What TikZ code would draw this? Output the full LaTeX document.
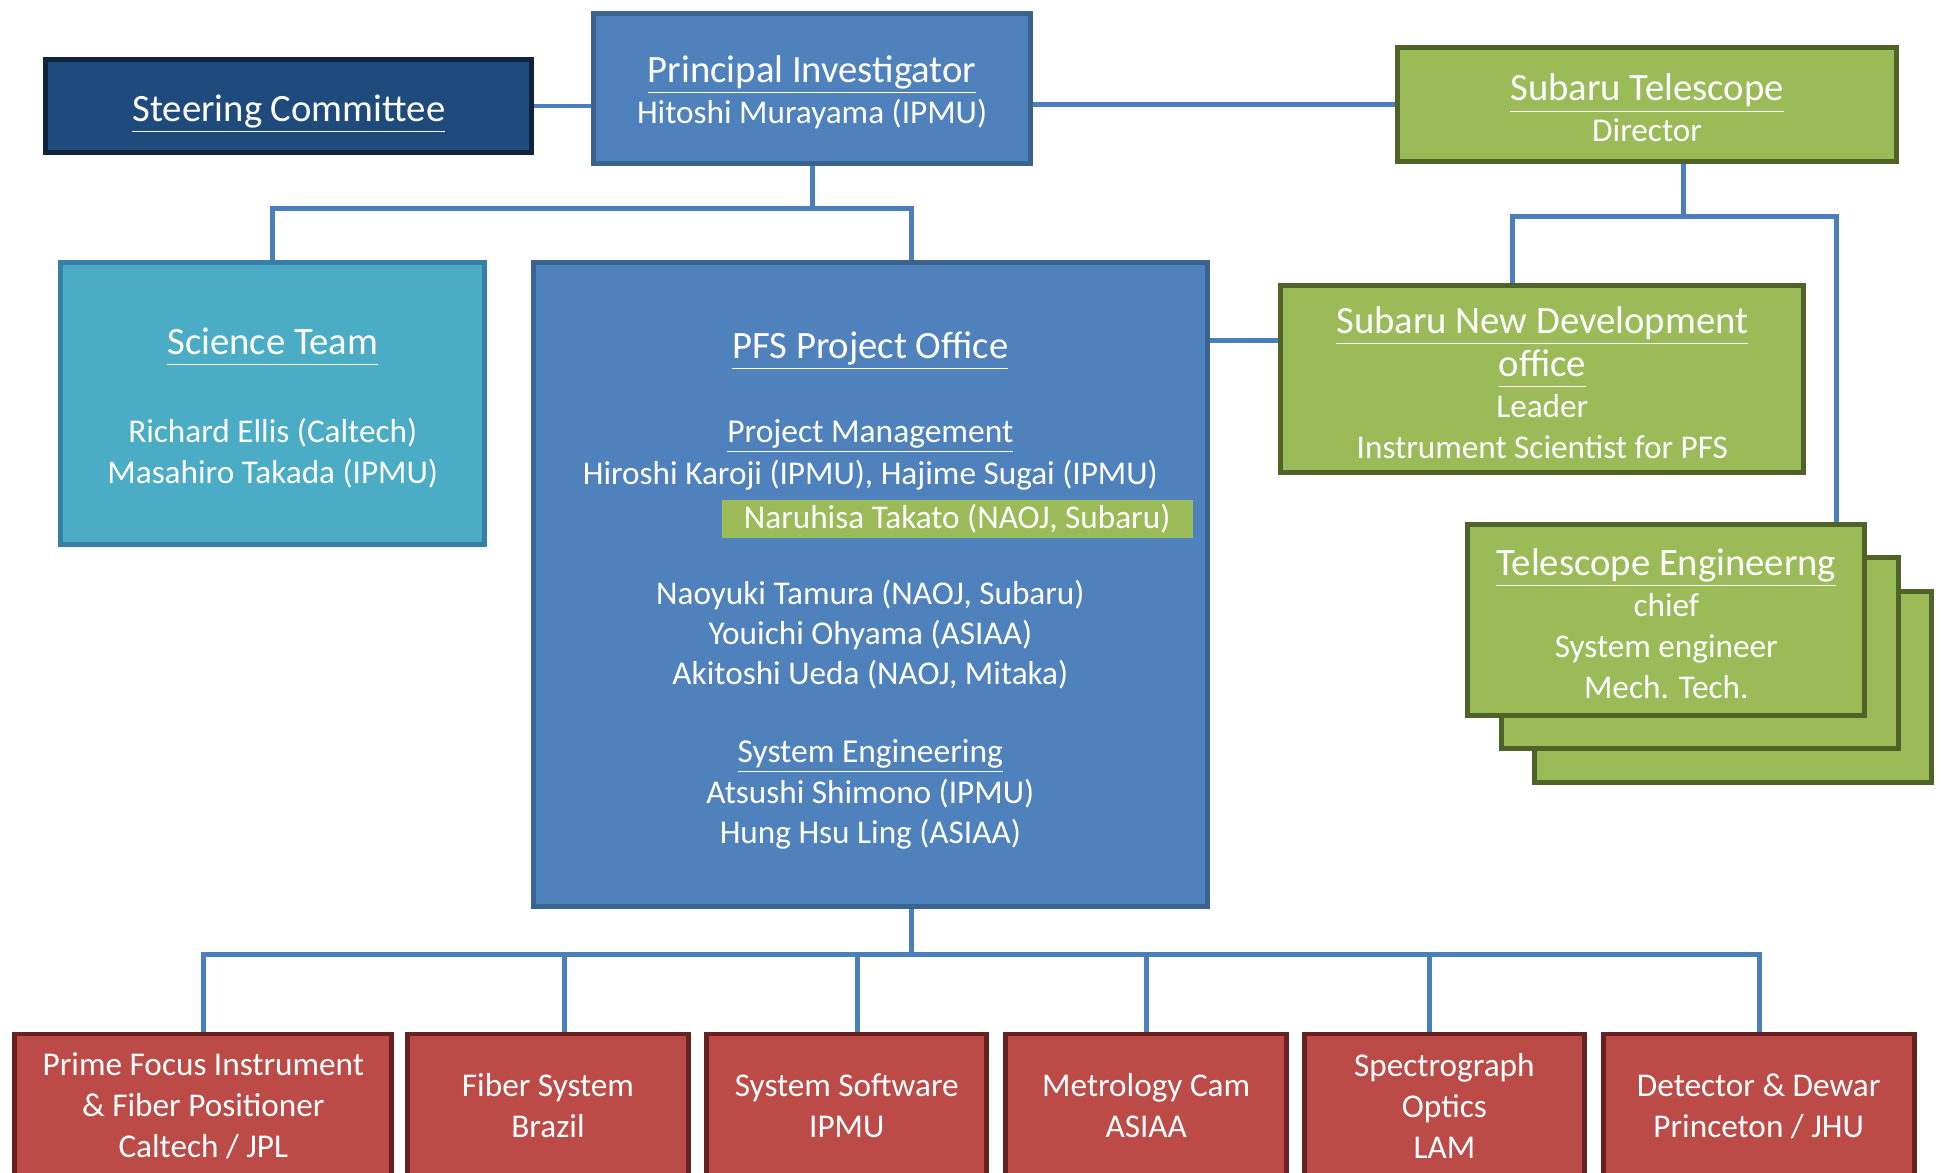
\documentclass[tikz,border=0pt]{standalone}
\usepackage{fontspec}
\setmainfont{Carlito}
\usetikzlibrary{backgrounds}
\definecolor{navyf}{HTML}{1F4A7C}
\definecolor{navyb}{HTML}{11243D}
\definecolor{bluef}{HTML}{4F81BD}
\definecolor{blueb}{HTML}{3A6390}
\definecolor{greenf}{HTML}{9BBB59}
\definecolor{greenb}{HTML}{4F6228}
\definecolor{cyanf}{HTML}{4BACC6}
\definecolor{cyanb}{HTML}{357FA8}
\definecolor{redf}{HTML}{BC4B48}
\definecolor{redb}{HTML}{652220}
\definecolor{connc}{HTML}{4A7EBC}
\newcommand\ttl[1]{{\fontsize{15.6}{18}\selectfont\rule{0pt}{14pt}\underline{#1\vphantom{gy}}}}
\newcommand\ttlx[1]{{\fontsize{15.6}{18}\selectfont\underline{#1\vphantom{gy}}}}
\newcommand\ttlb[1]{{\fontsize{13.5}{16.5}\selectfont\underline{#1\vphantom{gy}}}}
\begin{document}
\begin{tikzpicture}[x=0.5pt,y=-0.5pt,
  box/.style n args={4}{draw=#4, fill=#3, line width=2pt,
    minimum width={#1*0.5pt-2pt}, minimum height={#2*0.5pt-2pt},
    inner sep=0pt, text=white, align=center,
    font=\fontsize{13.4}{16.5}\selectfont},
  txt/.style={text=white, inner sep=0pt, align=center, font=\fontsize{13.4}{16.5}\selectfont},
  conn/.style={draw=connc, line width=2pt}]
\useasboundingbox (0,0) rectangle (1568,946);
\clip (0,0) rectangle (1568,946);

\coordinate (x735) at (735,0);
\coordinate (x1358) at (1358,0);
\coordinate (x1220) at (1220,0);
\coordinate (x1481) at (1481,0);
\coordinate (y275) at (0,275);
\coordinate (x164) at (164,0);
\coordinate (x455) at (455,0);
\coordinate (x692) at (692,0);
\coordinate (x925) at (925,0);
\coordinate (x1153) at (1153,0);
\coordinate (x1419) at (1419,0);

\node[box={396}{79}{navyf}{navyb}] (steer) at (233,85.5) {\raisebox{-1.5pt}[\height][\depth]{\ttl{Steering Committee}}};
\node[box={356}{125}{bluef}{blueb}] (pi) at (655,71.5) {\ttl{Principal Investigator}\\Hitoshi Murayama (IPMU)};
\node[box={407}{96}{greenf}{greenb}] (sub) at (1328.5,84) {\ttl{Subaru Telescope}\\Director};
\node[box={346}{231}{cyanf}{cyanb}] (sci) at (220,325.5) {\ttl{Science Team}\\[19pt]Richard Ellis (Caltech)\\Masahiro Takada (IPMU)};
\node[box={548}{523}{bluef}{blueb}] (pfs) at (702,471.5) {};
\node[box={426}{155}{greenf}{greenb}] (snd) at (1244,305.5) {\ttl{Subaru New Development}\\[1pt]\ttlx{office}\\Leader\\Instrument Scientist for PFS};
\node[box={324}{158}{greenf}{greenb}] (te3) at (1398,554) {};
\node[box={324}{158}{greenf}{greenb}] (te2) at (1371,527) {};
\node[box={324}{158}{greenf}{greenb}] (te1) at (1344,500) {\ttl{Telescope Engineerng}\\chief\\System engineer\\Mech. Tech.};

\node[txt] (pfst) at (702,280) {\ttl{PFS Project Office}};
\node[txt] (pm) at (702,352) {\ttlb{Project Management}};
\node[txt] (pm1) at (702,383) {Hiroshi Karoji (IPMU), Hajime Sugai (IPMU)};
\node[txt, fill=greenf, minimum width=190pt, minimum height=15.5pt] (hl) at (772,418.5) {Naruhisa Takato (NAOJ, Subaru)};
\node[txt] (pm2) at (702,480) {Naoyuki Tamura (NAOJ, Subaru)};
\node[txt] (pm3) at (702,512) {Youichi Ohyama (ASIAA)};
\node[txt] (pm4) at (702,544) {Akitoshi Ueda (NAOJ, Mitaka)};
\node[txt] (se) at (702,610) {\ttlb{System Engineering}};
\node[txt] (se1) at (702,640) {Atsushi Shimono (IPMU)};
\node[txt] (se2) at (702,673) {Hung Hsu Ling (ASIAA)};

\node[box={308}{120}{redf}{redb}] (b1) at (164,892) {Prime Focus Instrument\\\& Fiber Positioner\\Caltech / JPL};
\node[box={230}{120}{redf}{redb}] (b2) at (442,892) {Fiber System\\Brazil};
\node[box={230}{120}{redf}{redb}] (b3) at (683,892) {System Software\\IPMU};
\node[box={231}{120}{redf}{redb}] (b4) at (924.5,892) {Metrology Cam\\ASIAA};
\node[box={230}{120}{redf}{redb}] (b5) at (1165,892) {Spectrograph\\Optics\\LAM};
\node[box={255}{120}{redf}{redb}] (b6) at (1418.5,892) {Detector \& Dewar\\Princeton / JHU};

\begin{scope}[on background layer]
\draw[conn] (steer.east) -- (steer.east -| pi.west);
\draw[conn] (pi.east |- sub.west) -- (sub.west);
\draw[conn] (pi.south) -- ++(0,34) coordinate (j1);
\draw[conn] (sci.north) |- (j1) -| (pfs.north -| x735);
\draw[conn] (pfs.east |- y275) -- (snd.west |- y275);
\draw[conn] (sub.south -| x1358) -- ++(0,43) coordinate (j2);
\draw[conn] (snd.north -| x1220) |- (j2) -| (te1.north -| x1481);
\draw[conn] (pfs.south -| x735) -- ++(0,37) coordinate (j3);
\draw[conn] (b1.north -| x164) |- (j3) -| (b6.north -| x1419);
\draw[conn] (b2.north -| x455) -- (j3 -| x455);
\draw[conn] (b3.north -| x692) -- (j3 -| x692);
\draw[conn] (b4.north -| x925) -- (j3 -| x925);
\draw[conn] (b5.north -| x1153) -- (j3 -| x1153);
\end{scope}
\end{tikzpicture}
\end{document}
